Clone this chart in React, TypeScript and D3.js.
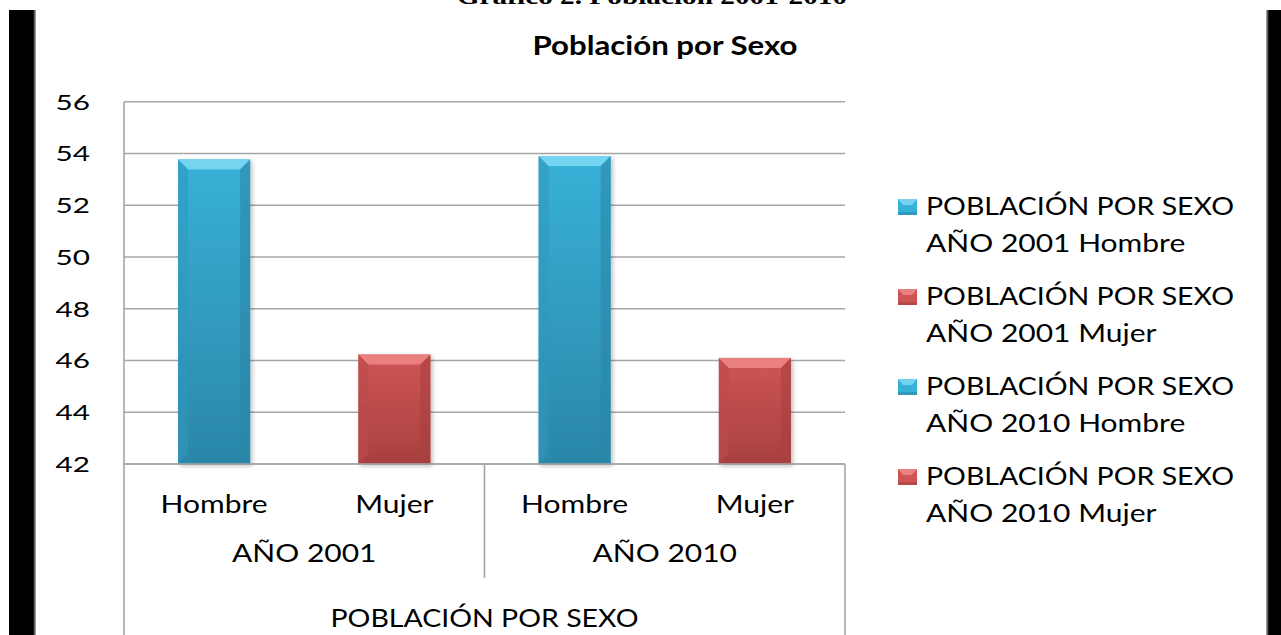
import React from 'react';
import * as d3 from 'd3';

const years = ['AÑO 2001', 'AÑO 2010'];
const sexes = ['Hombre', 'Mujer'];
const valores2001 = [53.77, 46.23];
const valores2010 = [53.9, 46.1];
const yTicks = [42, 44, 46, 48, 50, 52, 54, 56];
const legendLabels = [
  ['POBLACIÓN POR SEXO', 'AÑO 2001 Hombre'],
  ['POBLACIÓN POR SEXO', 'AÑO 2001 Mujer'],
  ['POBLACIÓN POR SEXO', 'AÑO 2010 Hombre'],
  ['POBLACIÓN POR SEXO', 'AÑO 2010 Mujer'],
];
const topText = 'Gráfico 2. Población 2001-2010';
const title = 'Población por Sexo';
const axisTitle = 'POBLACIÓN POR SEXO';

const W = 1281;
const H = 635;
const left = 124;
const right = 845;
const FONT = 'Lato, "Noto Sans", sans-serif';
const SX = 1.2; // the source image is stretched horizontally
const SX_CAPS = 1.14; // long upper-case lines run a bit wider in Lato

const colors = {
  Hombre: { face: '#38b1d8', dark: '#2b87a8', light: '#74d4ef', side: '#3098bd' },
  Mujer: { face: '#cf5555', dark: '#a84040', light: '#ea8080', side: '#bc4a4a' },
};

const rows = years.flatMap((year, i) =>
  sexes.map((sex, j) => ({
    key: year + '|' + sex,
    year,
    sex,
    value: (i === 0 ? valores2001 : valores2010)[j],
  }))
);

function T({ x, y, size, anchor = 'middle', weight = 400, sx = SX, family = FONT, children }) {
  return (
    <text
      transform={`translate(${x},${y}) scale(${sx},1)`}
      textAnchor={anchor}
      fontFamily={family}
      fontSize={size}
      fontWeight={weight}
      fill="#000"
    >
      {children}
    </text>
  );
}

function Bar({ x, y, w, h, c, id }) {
  const b = Math.min(10, h / 3);
  return (
    <g filter="url(#shadow)">
      <rect x={x} y={y} width={w} height={h} fill={`url(#face-${id})`} />
      <polygon
        points={`${x},${y} ${x + w},${y} ${x + w - b},${y + b} ${x + b},${y + b}`}
        fill={c.light}
      />
      <polygon
        points={`${x},${y} ${x + b},${y + b} ${x + b},${y + h - b} ${x},${y + h}`}
        fill={c.side}
        opacity={0.55}
      />
      <polygon
        points={`${x + w},${y} ${x + w - b},${y + b} ${x + w - b},${y + h - b} ${x + w},${y + h}`}
        fill={c.dark}
        opacity={0.6}
      />
      <polygon
        points={`${x},${y + h} ${x + b},${y + h - b} ${x + w - b},${y + h - b} ${x + w},${y + h}`}
        fill={c.dark}
        opacity={0.7}
      />
    </g>
  );
}

export default function App() {
  const y = d3.scaleLinear().domain([42, 56]).range([464, 101.7]);
  const x = d3
    .scaleBand()
    .domain(rows.map((d) => d.key))
    .range([left, right])
    .paddingInner(0.6)
    .paddingOuter(0.3);
  const xYear = d3.scaleBand().domain(years).range([left, right]);

  const base = y(42);

  return (
    <svg
      width={W}
      height={H}
      style={{ position: 'absolute', left: 0, top: 0, background: '#fff' }}
    >
      <defs>
        {sexes.map((s) => (
          <linearGradient key={s} id={`face-${s}`} x1="0" y1="0" x2="0" y2="1">
            <stop offset="0%" stopColor={colors[s].face} />
            <stop offset="100%" stopColor={colors[s].dark} />
          </linearGradient>
        ))}
        <linearGradient id="edgeL" x1="0" x2="1">
          <stop offset="0%" stopColor="#000" />
          <stop offset="100%" stopColor="#bbb" />
        </linearGradient>
        <linearGradient id="edgeR" x1="0" x2="1">
          <stop offset="0%" stopColor="#bbb" />
          <stop offset="100%" stopColor="#000" />
        </linearGradient>
        <filter id="shadow" x="-20%" y="-10%" width="150%" height="130%">
          <feDropShadow dx="2" dy="2" stdDeviation="2" floodColor="#000" floodOpacity="0.25" />
        </filter>
      </defs>

      <rect width={W} height={H} fill="#fff" />

      {/* page edges */}
      <rect x={9} y={10} width={24} height={H} fill="#000" />
      <rect x={33} y={10} width={3} height={H} fill="url(#edgeL)" />
      <rect x={1266} y={10} width={3} height={H} fill="url(#edgeR)" />
      <rect x={1269} y={10} width={12} height={H} fill="#000" />

      <T x={652} y={4} size={24} weight={700} sx={1.22} family='"Liberation Serif", "Times New Roman", serif'>
        {topText}
      </T>

      <T x={665} y={55} size={26} weight={700} sx={1.2}>
        {title}
      </T>

      {/* grid */}
      {yTicks.map((t) => (
        <g key={t}>
          <line x1={left} x2={right} y1={y(t)} y2={y(t)} stroke="#a6a6a6" strokeWidth={1.6} />
          <T x={90} y={y(t) + 8} size={22} anchor="end" sx={1.35}>
            {t}
          </T>
        </g>
      ))}

      {/* bars */}
      {rows.map((d) => (
        <Bar
          key={d.key}
          x={x(d.key)}
          y={y(d.value)}
          w={x.bandwidth()}
          h={base - y(d.value)}
          c={colors[d.sex]}
          id={d.sex}
        />
      ))}

      {/* axis frame */}
      <line x1={left} x2={left} y1={y(56)} y2={H} stroke="#a6a6a6" strokeWidth={1.6} />
      <line x1={left} x2={right} y1={base} y2={base} stroke="#a6a6a6" strokeWidth={1.6} />
      <line x1={right} x2={right} y1={base} y2={H} stroke="#a6a6a6" strokeWidth={1.6} />
      <line
        x1={xYear(years[1])}
        x2={xYear(years[1])}
        y1={base}
        y2={578}
        stroke="#a6a6a6"
        strokeWidth={1.6}
      />

      {rows.map((d) => (
        <T key={d.key} x={x(d.key) + x.bandwidth() / 2} y={513} size={25}>
          {d.sex}
        </T>
      ))}
      {years.map((yr) => (
        <T key={yr} x={xYear(yr) + xYear.bandwidth() / 2} y={562} size={25}>
          {yr}
        </T>
      ))}
      <T x={(left + right) / 2} y={627} size={25} sx={SX_CAPS}>
        {axisTitle}
      </T>

      {/* legend */}
      {legendLabels.map((lines, i) => {
        const c = colors[sexes[i % 2]];
        const by = 215 + i * 90;
        return (
          <g key={i}>
            <rect x={898} y={by - 16} width={19} height={16} fill={c.face} />
            <polygon
              points={`898,${by - 16} 917,${by - 16} 912,${by - 10} 903,${by - 10}`}
              fill={c.light}
            />
            <rect x={898} y={by - 3} width={19} height={3} fill={c.dark} opacity={0.6} />
            <T x={926} y={by} size={25} anchor="start" sx={SX_CAPS}>
              {lines[0]}
            </T>
            <T x={926} y={by + 37} size={25} anchor="start">
              {lines[1]}
            </T>
          </g>
        );
      })}
    </svg>
  );
}
